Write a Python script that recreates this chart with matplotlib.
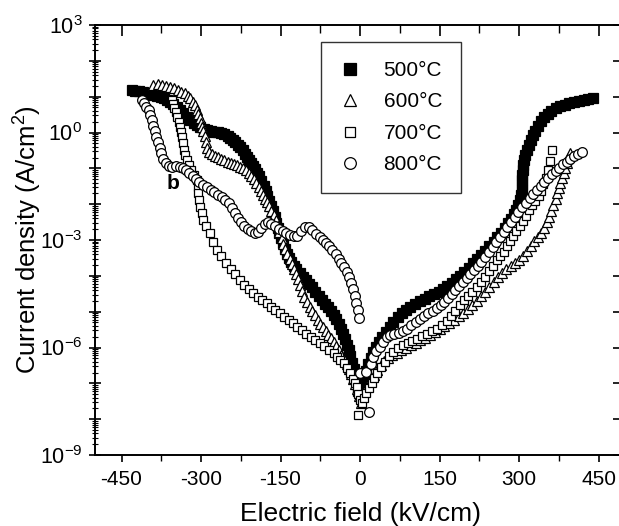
"""Curvas J-E de peliculas recocidas a 500-800 C (escala log)."""

import matplotlib

matplotlib.use("Agg")
import matplotlib.pyplot as plt
import numpy as np
from matplotlib.ticker import FuncFormatter, LogLocator, MultipleLocator

# campo electrico (kV/cm) y log10 de la densidad de corriente (A/cm2)
E_500 = [
    -431, -424, -417, -410, -403, -396, -390, -383, -376, -370, -364, -358, -352, -346,
    -340, -334, -327, -320, -314, -308, -301, -294, -288, -281, -275, -268, -262, -256,
    -250, -245, -240, -235, -230, -226, -221, -217, -214, -210, -206, -202, -198, -194,
    -190, -186, -182, -178, -175, -172, -168, -165, -161, -158, -155, -152, -149, -146,
    -142, -138, -134, -130, -125, -120, -114, -108, -102, -96, -90, -84, -78, -72, -66,
    -60, -55, -50, -45, -40, -36, -32, -28, -24, -21, -18, -15, -12, -9, -6, -3,
    2, 5, 8, 12, 16, 20, 25, 30, 36, 42, 49, 56, 63, 71, 79, 87, 95, 104, 113, 122,
    131, 140, 149, 157, 165, 173, 181, 189, 197, 205, 213, 220, 228, 236, 244, 252,
    259, 266, 273, 279, 285, 290, 295, 299, 302, 304, 305, 305, 306, 306, 307, 308,
    310, 312, 315, 318, 322, 326, 330, 335, 341, 347, 354, 361, 369, 377, 386, 395,
    404, 413, 422, 431, 440,
]
LOGJ_500 = [
    1.18, 1.17, 1.15, 1.13, 1.10, 1.07, 1.05, 1.02, 0.98, 0.95, 0.91, 0.86, 0.80, 0.72,
    0.63, 0.54, 0.44, 0.35, 0.27, 0.21, 0.15, 0.10, 0.07, 0.04, 0.02, 0.01, -0.01, -0.05,
    -0.10, -0.15, -0.20, -0.27, -0.34, -0.40, -0.50, -0.60, -0.67, -0.76, -0.85, -0.94,
    -1.03, -1.12, -1.22, -1.35, -1.48, -1.62, -1.76, -1.90, -2.05, -2.20, -2.36, -2.52,
    -2.66, -2.80, -2.95, -3.08, -3.24, -3.38, -3.50, -3.62, -3.72, -3.82, -3.92, -4.02,
    -4.12, -4.22, -4.32, -4.44, -4.56, -4.68, -4.78, -4.88, -4.98, -5.08, -5.20, -5.34,
    -5.48, -5.62, -5.76, -5.92, -6.08, -6.25, -6.42, -6.60, -6.80, -7.00, -7.20,
    -7.30, -7.05, -6.85, -6.65, -6.45, -6.28, -6.12, -5.98, -5.84, -5.70, -5.56, -5.42,
    -5.28, -5.15, -5.04, -4.95, -4.87, -4.79, -4.71, -4.64, -4.57, -4.50, -4.44, -4.37,
    -4.28, -4.19, -4.10, -4.01, -3.89, -3.77, -3.65, -3.54, -3.42, -3.30, -3.18, -3.06,
    -2.93, -2.80, -2.66, -2.52, -2.40, -2.28, -2.15, -2.02, -1.88, -1.74, -1.60, -1.46,
    -1.32, -1.18, -1.04, -0.90, -0.76, -0.63, -0.50, -0.36, -0.22, -0.08, 0.05, 0.18,
    0.31, 0.42, 0.52, 0.60, 0.67, 0.73, 0.78, 0.82, 0.86, 0.89, 0.91, 0.93, 0.95,
]

E_600 = [
    -390, -382, -374, -366, -358, -351, -344, -337, -330, -325, -320, -316, -312, -308,
    -305, -302, -300, -298, -296, -293, -290, -288, -285, -280, -274, -268, -262, -256,
    -250, -244, -238, -232, -226, -220, -215, -210, -205, -200, -196, -191, -187, -183,
    -179, -175, -171, -167, -163, -159, -155, -152, -148, -145, -141, -137, -133, -129,
    -125, -121, -117, -113, -109, -105, -100, -95, -90, -85, -80, -75, -70, -65, -60,
    -55, -50, -45, -40, -35, -30, -25, -21, -17, -13, -9, -5, -2,
    2, 6, 10, 15, 20, 26, 32, 39, 46, 53, 61, 69, 78, 87, 96, 105, 114, 123, 132, 141,
    150, 159, 168, 177, 186, 195, 204, 212, 220, 228, 236, 244, 252, 260, 268, 276,
    284, 292, 300, 308, 315, 322, 329, 335, 341, 347, 352, 357, 361, 365, 369, 372,
    375, 378, 381, 384, 387, 390, 393, 396,
]
LOGJ_600 = [
    1.32, 1.35, 1.33, 1.30, 1.28, 1.24, 1.19, 1.14, 1.10, 1.03, 0.95, 0.86, 0.76, 0.62,
    0.52, 0.40, 0.27, 0.16, 0.05, -0.10, -0.26, -0.42, -0.54, -0.60, -0.65, -0.69, -0.73,
    -0.78, -0.82, -0.86, -0.89, -0.92, -0.96, -1.00, -1.05, -1.12, -1.20, -1.30, -1.40,
    -1.52, -1.64, -1.75, -1.85, -1.95, -2.06, -2.18, -2.30, -2.45, -2.62, -2.78, -2.95,
    -3.10, -3.25, -3.40, -3.54, -3.68, -3.82, -3.96, -4.10, -4.26, -4.42, -4.58, -4.72,
    -4.86, -4.98, -5.10, -5.22, -5.34, -5.44, -5.54, -5.64, -5.74, -5.84, -5.96, -6.08,
    -6.20, -6.32, -6.46, -6.60, -6.74, -6.88, -7.02, -7.16, -7.35,
    -7.55, -7.35, -7.18, -7.02, -6.90, -6.76, -6.62, -6.48, -6.38, -6.30, -6.22, -6.15,
    -6.08, -6.01, -5.94, -5.87, -5.80, -5.73, -5.66, -5.58, -5.49, -5.40, -5.31, -5.22,
    -5.13, -5.03, -4.93, -4.82, -4.70, -4.57, -4.44, -4.30, -4.16, -4.03, -3.92, -3.82,
    -3.73, -3.64, -3.55, -3.44, -3.32, -3.18, -3.04, -2.92, -2.80, -2.66, -2.50, -2.35,
    -2.18, -2.02, -1.86, -1.70, -1.55, -1.40, -1.27, -1.14, -1.00, -0.86, -0.72, -0.58,
]

E_700 = [
    -355, -353, -351, -348, -345, -342, -340, -338, -336, -334, -333, -330, -327, -323,
    -318, -313, -308, -306, -305, -303, -302, -299, -296, -290, -283, -277, -270, -262,
    -252, -244, -235, -226, -218, -210, -201, -193, -184, -176, -168, -160, -151, -143,
    -134, -126, -118, -110, -101, -93, -84, -75, -67, -58, -50, -43, -37, -31, -25, -19,
    -13, -9, -6, -3, 0, -3,
    3, 7, 12, 17, 22, 27, 33, 40, 47, 55, 63, 72, 81, 90, 99, 108, 117, 126, 135, 145,
    154, 164, 172, 180, 188, 196, 204, 212, 220, 228, 236, 244, 251, 258, 265, 271, 277,
    283, 289, 295, 301, 307, 313, 319, 325, 331, 337, 342, 346, 350, 355, 358, 362,
]
LOGJ_700 = [
    0.91, 0.80, 0.68, 0.56, 0.44, 0.30, 0.16, 0.02, -0.12, -0.30, -0.49, -0.63, -0.77,
    -0.91, -1.05, -1.19, -1.33, -1.51, -1.70, -1.88, -2.07, -2.25, -2.44, -2.62, -2.81,
    -3.05, -3.28, -3.46, -3.65, -3.80, -3.96, -4.12, -4.25, -4.37, -4.49, -4.59, -4.68,
    -4.77, -4.86, -4.95, -5.05, -5.14, -5.24, -5.33, -5.42, -5.51, -5.61, -5.70, -5.79,
    -5.88, -5.97, -6.06, -6.16, -6.26, -6.35, -6.44, -6.58, -6.72, -6.88, -7.00, -7.09,
    -7.30, -7.47, -7.88,
    -7.55, -7.42, -7.28, -7.12, -6.98, -6.85, -6.70, -6.55, -6.40, -6.25, -6.12, -6.02,
    -5.94, -5.87, -5.81, -5.75, -5.69, -5.62, -5.55, -5.47, -5.37, -5.25, -5.12, -4.98,
    -4.82, -4.68, -4.56, -4.44, -4.31, -4.16, -4.02, -3.87, -3.72, -3.57, -3.45, -3.33,
    -3.18, -3.04, -2.90, -2.76, -2.61, -2.46, -2.32, -2.17, -2.03, -1.90, -1.78, -1.62,
    -1.45, -1.27, -1.05, -0.80, -0.49,
]

E_800 = [
    -412, -407, -403, -399, -396, -393, -390, -387, -384, -381, -378, -375, -371, -366,
    -360, -354, -347, -340, -334, -328, -322, -316, -310, -303, -296, -289, -282, -275,
    -268, -261, -254, -248, -242, -236, -230, -224, -218, -212, -205, -198, -192, -186,
    -180, -174, -167, -160, -153, -146, -139, -132, -125, -118, -111, -104, -97, -90,
    -83, -76, -70, -64, -58, -52, -46, -40, -35, -30, -25, -21, -17, -13, -10, -7, -4, -2,
    17, 0, 12, 20, 25, 31, 38, 44, 50, 57, 65, 73, 81, 89, 97, 105, 113, 121, 129, 137,
    145, 152, 159, 166, 173, 180, 187, 194, 201, 208, 215, 222, 229, 236, 243, 250, 257,
    264, 271, 278, 285, 292, 299, 306, 313, 320, 327, 334, 341, 348, 355, 362, 369, 376,
    383, 390, 397, 404, 411, 418,
]
LOGJ_800 = [
    0.91, 0.82, 0.72, 0.62, 0.48, 0.34, 0.18, 0.03, -0.12, -0.27, -0.43, -0.58, -0.74,
    -0.86, -0.93, -0.95, -0.93, -0.95, -0.99, -1.05, -1.14, -1.22, -1.30, -1.38, -1.46,
    -1.53, -1.60, -1.67, -1.74, -1.81, -1.88, -1.98, -2.10, -2.24, -2.38, -2.50, -2.60,
    -2.68, -2.74, -2.80, -2.78, -2.66, -2.56, -2.50, -2.54, -2.62, -2.70, -2.75, -2.80,
    -2.86, -2.90, -2.88, -2.76, -2.64, -2.64, -2.72, -2.82, -2.92, -3.00, -3.08, -3.18,
    -3.28, -3.40, -3.52, -3.64, -3.76, -3.90, -4.04, -4.20, -4.38, -4.56, -4.76, -4.96,
    -5.17,
    -7.80, -6.72, -6.68, -6.45, -6.26, -6.10, -5.98, -5.85, -5.72, -5.66, -5.62, -5.59,
    -5.54, -5.47, -5.38, -5.29, -5.20, -5.12, -5.05, -4.98, -4.90, -4.82, -4.73, -4.62,
    -4.51, -4.40, -4.28, -4.17, -4.06, -3.95, -3.84, -3.72, -3.60, -3.47, -3.34, -3.20,
    -3.06, -2.92, -2.78, -2.63, -2.49, -2.35, -2.22, -2.09, -1.96, -1.84, -1.72, -1.60,
    -1.49, -1.38, -1.27, -1.17, -1.07, -0.98, -0.89, -0.81, -0.73, -0.66, -0.60, -0.55,
]

ETIQUETAS = ["500°C", "600°C", "700°C", "800°C"]
X_TICKS = [-450, -300, -150, 0, 150, 300, 450]


def _decada(val, _pos):
    exp = int(round(np.log10(val)))
    return rf"$10^{{{exp}}}$" if exp % 3 == 0 else ""


def main() -> None:
    plt.rcParams["font.family"] = "Liberation Sans"
    plt.rcParams["mathtext.fontset"] = "custom"
    plt.rcParams["mathtext.rm"] = "Liberation Sans"
    plt.rcParams["mathtext.default"] = "regular"
    plt.rcParams["axes.unicode_minus"] = False

    fig = plt.figure(figsize=(6.19, 5.26), dpi=100)
    # el eje derecho queda fuera de la imagen como en el original
    ax = fig.add_axes([95 / 619, 71 / 526, 530 / 619, 430 / 526])

    series = [
        (E_500, LOGJ_500, "s", "black", 6.8),
        (E_600, LOGJ_600, "^", "white", 7.0),
        (E_700, LOGJ_700, "s", "white", 5.8),
        (E_800, LOGJ_800, "o", "white", 7.0),
    ]
    for (e, logj, mk, fc, ms), lab in zip(series, ETIQUETAS):
        ax.plot(
            e, 10.0 ** np.asarray(logj), linestyle="none", marker=mk, ms=ms,
            mfc=fc, mec="black", mew=0.9, label=lab,
        )

    ax.set_yscale("log")
    ax.set_xlim(-500, 500)
    ax.set_ylim(1e-9, 1e3)
    ax.set_xticks(X_TICKS)
    ax.xaxis.set_minor_locator(MultipleLocator(75))
    ax.yaxis.set_major_locator(LogLocator(base=10, numticks=20))
    ax.yaxis.set_minor_locator(LogLocator(base=10, subs=np.arange(2, 10), numticks=20))
    ax.yaxis.set_major_formatter(FuncFormatter(_decada))

    for sp in ax.spines.values():
        sp.set_linewidth(1.4)
    ax.tick_params(axis="x", which="both", bottom=True, top=True, direction="out",
                   labelsize=15, pad=6)
    ax.tick_params(axis="x", which="major", length=5, width=1.2)
    ax.tick_params(axis="x", which="minor", length=4, width=1.0)
    ax.tick_params(axis="y", which="both", left=True, right=True, direction="inout",
                   labelsize=15.5, pad=5)
    ax.tick_params(axis="y", which="major", length=8, width=1.2)
    ax.tick_params(axis="y", which="minor", length=5, width=0.8)
    # las marcas superiores y derechas van hacia dentro
    for t in ax.xaxis.get_major_ticks():
        t.tick2line.set_marker(3)
        t.tick2line.set_markersize(8)
    for t in ax.xaxis.get_minor_ticks():
        t.tick2line.set_marker(3)
        t.tick2line.set_markersize(6)
    for t in ax.yaxis.get_major_ticks():
        t.tick2line.set_marker(0)
        t.tick2line.set_markersize(9)

    ax.set_xlabel("Electric field (kV/cm)", fontsize=19)
    ax.set_ylabel("Current density (A/cm$^2$)", fontsize=18.5)
    ax.xaxis.set_label_coords(0.5, -0.11)
    ax.yaxis.set_label_coords(-0.097, 0.5)

    ax.text(-353, 10 ** -1.41, "b", fontsize=15, fontweight="bold",
            ha="center", va="center")

    leg = ax.legend(
        loc="upper left", bbox_to_anchor=(0.4265, 0.96), fontsize=15,
        frameon=True, fancybox=False, edgecolor="black", markerscale=1.2,
        borderpad=0.9, handlelength=1.0, handletextpad=1.1, labelspacing=0.6,
        borderaxespad=0,
    )
    leg.get_frame().set_linewidth(1.0)

    fig.savefig("out.png", dpi=100)
    plt.close(fig)


if __name__ == "__main__":
    main()
